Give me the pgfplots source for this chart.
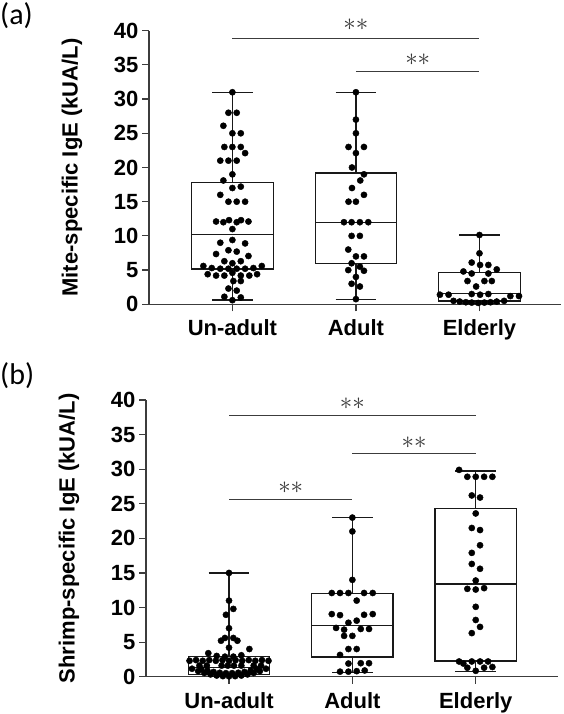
\documentclass[border=0pt]{standalone}
\usepackage{fontspec}
\setmainfont{Liberation Sans}
\newfontfamily\carlito{Carlito}
\usepackage{pgfplots}
\pgfplotsset{compat=1.18}
\usepgfplotslibrary{statistics}
\definecolor{axgray}{RGB}{60,60,60}
\definecolor{stargray}{RGB}{55,55,55}
\pgfplotsset{
  myaxis/.style={
    scale only axis, width=412pt,
    ymin=0, ymax=40,
    axis x line*=bottom, axis y line*=left,
    axis line style={line width=1.2pt, color=axgray},
    xtick={0,1,2}, xticklabels={Un-adult,Adult,Elderly},
    ytick={0,5,...,40},
    tick align=outside, major tick length=7pt,
    tick style={line width=1.2pt, color=axgray},
    ticklabel style={font=\fontsize{22}{22}\selectfont\bfseries},
    xticklabel style={yshift=-5pt},
    /pgf/number format/assume math mode=true,
    clip=false,
    every axis y label/.style={at={(axis description cs:-0.187,0.5)}, rotate=90, anchor=center,
      font=\fontsize{22}{22}\selectfont\bfseries},
    boxplot/draw direction=y,
  },
  mybox/.style={draw=black!90, line width=1.2pt, solid},
  mydots/.style={only marks, mark=*, mark size=3.1pt, mark options={fill=black, draw=black, solid}},
  sigline/.style={no marks, line width=0.9pt, color=axgray},
}
\tikzset{stars/.style={font=\fontsize{24}{24}\selectfont, text=stargray, inner sep=0pt}}
\begin{document}
\begin{tikzpicture}[x=1pt,y=1pt]
\useasboundingbox (0,0) rectangle (563,714);
\node[anchor=north west, inner sep=0pt] at (0,712) {\carlito\fontsize{30}{30}\selectfont (a)};
\node[anchor=north west, inner sep=0pt] at (0,352) {\carlito\fontsize{30}{30}\selectfont (b)};

% ---------------- panel (a) ----------------
\begin{axis}[myaxis, at={(149pt,409.7pt)}, anchor=south west, height=273.6pt,
  xmin=-0.675, xmax=2.66, ylabel={Mite-specific IgE (kUA/L)}]
\addplot[mybox, boxplot prepared={draw position=0, lower whisker=0.63, lower quartile=5.16, median=10.2, upper quartile=17.8, upper whisker=31.0, box extend=0.66, whisker extend=0.33}] coordinates {};
\addplot[mybox, boxplot prepared={draw position=1, lower whisker=0.75, lower quartile=5.94, median=12.0, upper quartile=19.2, upper whisker=31.0, box extend=0.66, whisker extend=0.33}] coordinates {};
\addplot[mybox, boxplot prepared={draw position=2, lower whisker=0.1, lower quartile=0.48, median=1.6, upper quartile=4.62, upper whisker=10.13, box extend=0.66, whisker extend=0.33}] coordinates {};
% Un-adult
\addplot[mydots] coordinates {
(0,31.0) (-0.032,28.0) (0.035,28.0) (-0.073,26.1) (0,25.0) (0.068,25.0)
(-0.065,23.0) (0,23.0) (0.068,23.0) (0.103,22.1)
(-0.098,21.0) (-0.032,21.0) (0.035,21.0) (0,19.0) (-0.073,18.1)
(0,17.0) (0.068,17.2) (-0.098,16.0) (-0.032,15.0) (0.035,15.0) (0.103,15.0)
(-0.132,12.1) (-0.073,12.0) (-0.027,12.3) (0.035,12.0) (0.07,12.3) (0.13,12.1)
(0,11.0) (-0.098,9.0) (0,9.4) (0.103,8.9)
(-0.132,7.35) (-0.032,7.9) (0.035,7.7) (0.13,7.06)
(-0.065,6.3) (0,6.0) (0.068,6.3)
(-0.235,5.6) (-0.167,5.3) (-0.098,5.2) (-0.032,5.2) (0.035,5.2) (0.103,5.2) (0.17,5.3) (0.238,5.6)
(-0.2,4.4) (-0.132,4.2) (-0.065,4.2) (0,4.6) (0.068,4.2) (0.137,4.2) (0.2,4.4)
(0.008,3.4) (0.068,3.4) (-0.032,2.3) (0.035,2.0)
(-0.065,1.1) (0,0.6) (0.068,1.0)
};
% Adult
\addplot[mydots] coordinates {
(1,31) (1,27) (1,25) (0.94,23) (1.065,23) (1,22.1) (0.968,20) (1.065,19) (1.035,18.1)
(0.968,17) (1.065,16) (0.94,15) (1,15)
(0.903,12) (0.965,12) (1.032,12) (1.1,12)
(0.965,10) (1.032,10) (0.938,8) (1,7) (1.065,7)
(0.965,6) (0.938,5) (1.032,5.5) (1.065,4.9) (1,4) (0.965,3) (1.032,2.6) (1,0.75)
};
% Elderly
\addplot[mydots] coordinates {
(2,10.13) (2,7.45) (1.937,6.1) (2.005,5.75) (2.072,5.75) (2.14,5.1) (1.87,4.8) (1.937,4.5) (2.072,4.5)
(1.903,3.4) (2.04,3.4) (2.1,3.4) (1.973,2.6)
(1.937,1.5) (2.005,1.4) (2.072,1.5) (1.68,1.4) (1.75,1.4) (2.25,1.2) (2.32,1.2)
(1.79,0.5) (1.84,0.4) (1.89,0.3) (1.937,0.25) (1.99,0.2) (2.04,0.25) (2.09,0.3) (2.14,0.4) (2.2,0.5)
};
\addplot[sigline] coordinates {(0,38.9) (2,38.9)};
\addplot[sigline] coordinates {(1,34.1) (2,34.1)};
\node[stars] at (axis cs:1,40.9) {$\ast\ast$};
\node[stars] at (axis cs:1.5,35.8) {$\ast\ast$};
\end{axis}

% ---------------- panel (b) ----------------
\begin{axis}[myaxis, at={(146pt,37.3pt)}, anchor=south west, height=276.7pt,
  xmin=-0.673, xmax=2.667, ylabel={Shrimp-specific IgE (kUA/L)}]
\addplot[mybox, boxplot prepared={draw position=0, lower whisker=0.05, lower quartile=0.35, median=1.3, upper quartile=2.95, upper whisker=15.0, box extend=0.66, whisker extend=0.33}] coordinates {};
\addplot[mybox, boxplot prepared={draw position=1, lower whisker=0.64, lower quartile=2.86, median=7.36, upper quartile=12.0, upper whisker=23.0, box extend=0.66, whisker extend=0.33}] coordinates {};
\addplot[mybox, boxplot prepared={draw position=2, lower whisker=0.73, lower quartile=2.28, median=13.4, upper quartile=24.3, upper whisker=29.75, box extend=0.66, whisker extend=0.33}] coordinates {};
% Un-adult
\addplot[mydots] coordinates {
(0,15.0) (0,11.0) (0.035,9.8) (-0.025,8.95) (0,7.0)
(-0.065,5.2) (-0.033,5.6) (0.035,5.6) (0.068,5.2) (0,4.2)
(-0.168,3.4) (0.165,4.0)
(-0.1,3.0) (-0.033,2.9) (0.035,2.9) (0.1,3.1)
(-0.32,2.3) (-0.267,2.4) (-0.213,2.3) (-0.16,2.4) (-0.107,2.3) (-0.053,2.4) (0,2.3) (0.053,2.4) (0.107,2.3) (0.16,2.4) (0.213,2.3) (0.267,2.4) (0.32,2.3)
(-0.24,1.6) (-0.18,1.6) (-0.06,1.6) (-0.01,1.6) (0.04,1.6) (0.1,1.6) (0.2,1.6) (0.26,1.6)
(-0.3,1.15) (-0.25,0.81) (-0.2,0.54) (-0.15,0.33) (-0.1,0.17) (-0.05,0.08) (0,0.05) (0.05,0.08) (0.1,0.17) (0.15,0.33) (0.2,0.54) (0.25,0.81) (0.3,1.15)
(-0.225,1.12) (-0.175,0.87) (-0.125,0.69) (-0.075,0.57) (-0.025,0.51) (0.025,0.51) (0.075,0.57) (0.125,0.69) (0.175,0.87) (0.225,1.12)
};
% Adult
\addplot[mydots] coordinates {
(1,23) (1,21) (1,14)
(0.833,12.1) (0.9,12.1) (0.968,12.1) (1.095,12.1) (1.165,12.1)
(1.035,11.0)
(0.833,9.05) (0.9,8.9) (1.095,8.95) (1.165,9.05)
(0.968,7.8) (1.035,8.1)
(0.868,7.05) (0.933,6.8) (1.068,6.9) (1.135,6.9)
(0.933,5.9) (1,5.9) (0.968,4.0) (1.035,4.0) (0.9,3.15)
(0.968,1.9) (1.068,1.95) (1.135,1.95)
(0.9,0.73) (0.968,0.73) (1.035,0.8) (1.1,0.9)
};
% Elderly
\addplot[mydots] coordinates {
(1.865,29.9) (1.932,28.9) (2,28.9) (2.068,28.9) (2.135,28.9)
(1.968,26.2) (2.035,25.9) (2,23.6) (1.968,21.5) (2.035,21.2)
(2.035,19.0) (1.968,17.9) (1.968,16.3) (2.035,15.6) (2,13.9)
(1.932,12.7) (2,12.6) (2.068,12.8) (2,10.1)
(2,8.2) (2.035,7.2) (1.968,6.3)
(1.865,2.2) (1.9,1.9) (1.968,2.2) (2.035,2.2) (2.1,2.2) (1.932,1.3) (2,0.85) (2.068,1.3) (2.135,1.4)
};
\addplot[sigline] coordinates {(0,37.8) (2,37.8)};
\addplot[sigline] coordinates {(1,32.3) (2,32.3)};
\addplot[sigline] coordinates {(0,25.6) (1,25.6)};
\node[stars] at (axis cs:1,39.5) {$\ast\ast$};
\node[stars] at (axis cs:1.5,33.8) {$\ast\ast$};
\node[stars] at (axis cs:0.5,27.3) {$\ast\ast$};
\end{axis}
\end{tikzpicture}
\end{document}
